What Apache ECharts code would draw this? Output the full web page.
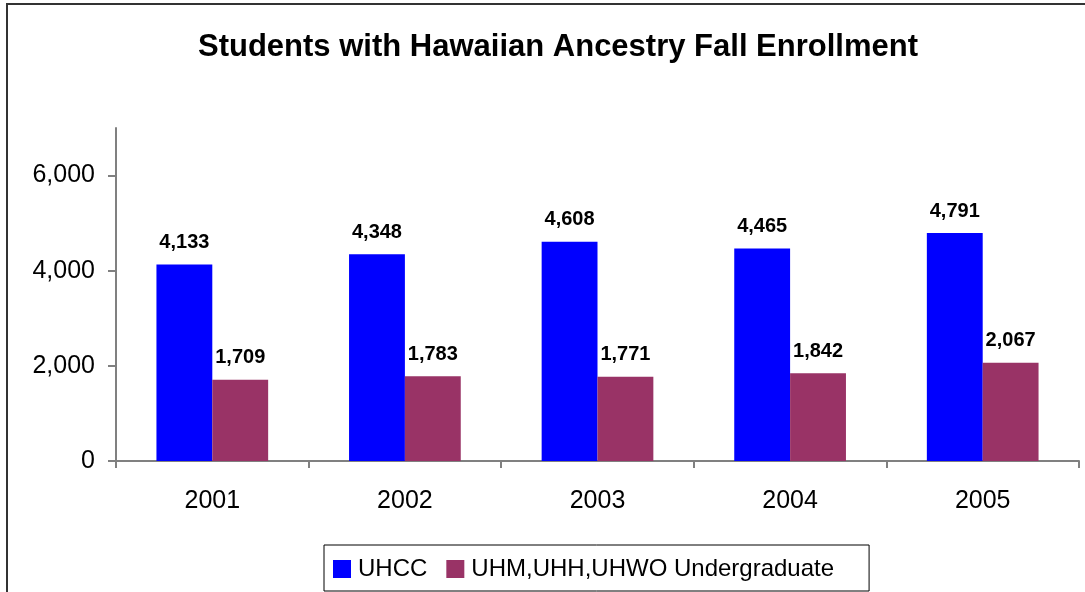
<!DOCTYPE html>
<html>
<head>
<meta charset="utf-8">
<script src="https://cdn.jsdelivr.net/npm/echarts@6/dist/echarts.min.js"></script>
<style>
  html, body { margin: 0; padding: 0; background: #fff; }
  #chart { width: 1085px; height: 592px; }
</style>
</head>
<body>
<div id="chart"></div>
<script>
// Fall enrollment of students with Hawaiian ancestry, by campus group
const years = ['2001', '2002', '2003', '2004', '2005'];
const uhcc = [4133, 4348, 4608, 4465, 4791];
const undergrad = [1709, 1783, 1771, 1842, 2067];
const seriesNames = ['UHCC', 'UHM,UHH,UHWO Undergraduate'];
const yTicks = [0, 2000, 4000, 6000];

const FONT = "'Liberation Sans', Arial, sans-serif";
const fmt = v => Number(v).toLocaleString('en-US');

const chart = echarts.init(document.getElementById('chart'), null, { renderer: 'canvas' });

const barLabel = {
  show: true,
  position: 'top',
  distance: 12,
  color: '#000',
  fontFamily: FONT,
  fontWeight: 'bold',
  fontSize: 20,
  formatter: p => fmt(p.value)
};

chart.setOption({
  backgroundColor: '#fff',
  animation: false,
  title: {
    text: 'Students with Hawaiian Ancestry Fall Enrollment',
    left: 553,
    top: 27,
    textAlign: 'center',
    textStyle: { fontFamily: FONT, fontWeight: 'bold', fontSize: 31, color: '#000' }
  },
  graphic: [{
    type: 'rect',
    shape: { x: 7, y: 4, width: 1200, height: 700 },
    style: { fill: 'none', stroke: '#333', lineWidth: 2 },
    silent: true
  }],
  legend: {
    data: seriesNames,
    left: 324,
    top: 545,
    padding: [12, 35, 10, 9],
    borderColor: '#000',
    borderWidth: 1,
    itemWidth: 18,
    itemHeight: 18,
    itemGap: 19,
    icon: 'rect',
    textStyle: { fontFamily: FONT, fontSize: 24, color: '#000', padding: [0, 0, 0, 2] }
  },
  grid: { left: 116, right: 6, top: 128, bottom: 131, containLabel: false },
  xAxis: {
    type: 'category',
    data: years,
    axisLine: { lineStyle: { color: '#808080', width: 2 } },
    axisTick: { show: true, length: 7, lineStyle: { color: '#808080', width: 2 } },
    axisLabel: { fontFamily: FONT, fontSize: 25, color: '#000', margin: 28 }
  },
  yAxis: {
    type: 'value',
    min: 0,
    max: 7000,
    interval: 1000,
    splitLine: { show: false },
    axisLine: { show: true, lineStyle: { color: '#808080', width: 2 } },
    axisTick: { show: true, length: 8, lineStyle: { color: '#808080', width: 2 }, customValues: yTicks },
    axisLabel: {
      fontFamily: FONT, fontSize: 25, color: '#000', margin: 21,
      customValues: yTicks,
      formatter: v => fmt(v)
    }
  },
  series: [
    {
      name: seriesNames[0],
      type: 'bar',
      data: uhcc,
      barGap: '0%',
      barCategoryGap: '42%',
      itemStyle: { color: '#0000FF' },
      label: barLabel
    },
    {
      name: seriesNames[1],
      type: 'bar',
      data: undergrad,
      itemStyle: { color: '#993366' },
      label: barLabel
    }
  ]
});
</script>
</body>
</html>
